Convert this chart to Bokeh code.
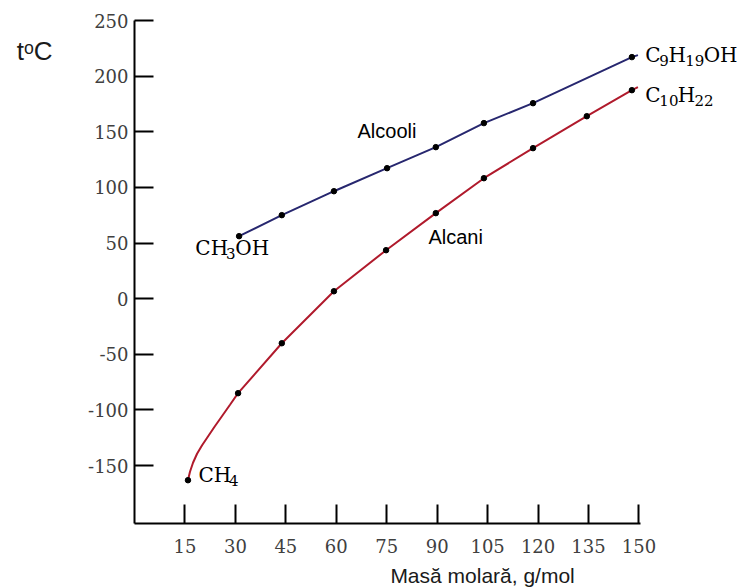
from bokeh.plotting import figure
from bokeh.models import Range1d, FixedTicker, Label, LinearAxis
from bokeh.embed import file_html
from bokeh.resources import INLINE

# ---- data ----
x_ticks = [15, 30, 45, 60, 75, 90, 105, 120, 135, 150]
y_ticks = [-150, -100, -50, 0, 50, 100, 150, 200, 250]

alcohol_mass = [31.1, 43.8, 59.3, 75.1, 89.6, 103.9, 118.5, 147.9]
alcohol_temp = [56.2, 75.1, 96.6, 117.3, 136.2, 157.8, 175.7, 217.1]

alkane_mass = [15.9, 30.8, 43.8, 59.3, 74.8, 89.6, 103.9, 118.5, 134.5, 147.9]
alkane_temp = [-163.1, -84.9, -40.0, 6.7, 43.6, 76.9, 108.3, 135.3, 164.0, 187.4]

# traced points along the drawn curves (between / beyond the markers)
alkane_curve_mass = [15.9, 16.5, 17.4, 18.6, 20.1, 21.9, 23.9, 26.0, 28.4, 30.8,
                     43.8, 59.3, 74.8, 89.6, 103.9, 118.5, 134.5, 147.9, 149.7]
alkane_curve_temp = [-163.1, -155.5, -147.4, -139.3, -131.7, -123.6, -114.6, -105.6, -95.3, -84.9,
                     -40.0, 6.7, 43.6, 76.9, 108.3, 135.3, 164.0, 187.4, 190.1]
alcohol_curve_mass = [31.1, 43.8, 59.3, 75.1, 89.6, 103.9, 118.5, 147.9, 149.7]
alcohol_curve_temp = [56.2, 75.1, 96.6, 117.3, 136.2, 157.8, 175.7, 217.1, 218.9]

y_title = "tᵒC"
x_title = "Masă molară, g/mol"

BLUE = "#27276f"
RED = "#b01a2c"
SERIF = "DejaVu Serif"
SANS = "Liberation Sans"

p = figure(frame_width=604, frame_height=503,
           min_border_left=134, min_border_right=0,
           min_border_top=20, min_border_bottom=0,
           x_range=Range1d(0, 179.6), y_range=Range1d(-202, 250),
           output_backend="svg", toolbar_location=None)

p.outline_line_color = None
p.xgrid.visible = False
p.ygrid.visible = False
p.background_fill_color = "white"
p.border_fill_color = "white"

for ax in (p.xaxis, p.yaxis):
    ax.axis_line_color = "black"
    ax.axis_line_width = 2
    ax.major_tick_line_color = "black"
    ax.major_tick_line_width = 2
    ax.major_tick_in = 19
    ax.major_tick_out = 0
    ax.minor_tick_line_color = None
    ax.major_label_text_font = SERIF
    ax.major_label_text_font_size = "18px"
    ax.major_label_text_color = "#404040"

p.xaxis.ticker = FixedTicker(ticks=x_ticks)
p.yaxis.ticker = FixedTicker(ticks=y_ticks)
p.xaxis.bounds = (0, 150.4)
p.yaxis.major_label_overrides = {v: str(v) for v in y_ticks}
p.xaxis.major_label_standoff = 15
p.yaxis.major_label_standoff = 6

# title texts placed through extra (line-less) axes so they sit outside the frame
y_title_axis = LinearAxis(ticker=FixedTicker(ticks=[223]),
                          major_label_overrides={223: y_title})
x_title_axis = LinearAxis(ticker=FixedTicker(ticks=[103.5]),
                          major_label_overrides={103.5: x_title})
for ax in (y_title_axis, x_title_axis):
    ax.axis_line_color = None
    ax.major_tick_line_color = None
    ax.minor_tick_line_color = None
    ax.major_tick_in = 0
    ax.major_tick_out = 0
    ax.major_label_text_font = SANS
    ax.major_label_text_color = "#1a1a1a"
y_title_axis.major_label_text_font_size = "26px"
y_title_axis.major_label_standoff = 33
x_title_axis.major_label_text_font_size = "21px"
x_title_axis.major_label_standoff = 8
p.add_layout(y_title_axis, "left")
p.add_layout(x_title_axis, "below")

p.line(alcohol_curve_mass, alcohol_curve_temp, line_color=BLUE, line_width=2)
p.line(alkane_curve_mass, alkane_curve_temp, line_color=RED, line_width=2)
p.scatter(alcohol_mass, alcohol_temp, size=5.5, color="black")
p.scatter(alkane_mass, alkane_temp, size=5.5, color="black")

LIFT = 7  # pixel lift applied to the in-plot labels


def lab(x, y, t, font, size, xo=0, yo=0):
    p.add_layout(Label(x=x, y=y, text=t, text_font=font, text_font_size=size,
                       text_color="black", text_align="left", text_baseline="alphabetic",
                       x_offset=xo, y_offset=yo + LIFT))


def formula(x, y, parts):
    """parts: list of (text, is_subscript); widths are approximate pixel advances."""
    xo = 0.0
    for t, sub in parts:
        if sub:
            lab(x, y, t, SERIF, "15px", xo, -6)
            xo += 9.2 * len(t)
        else:
            lab(x, y, t, SERIF, "20px", xo, 0)
            w = {"C": 14.0, "H": 16.7, "O": 15.7}
            xo += sum(w.get(c, 14) for c in t)


formula(18.1, 39.6, [("CH", False), ("3", True), ("OH", False)])
formula(19.0, -164.4, [("CH", False), ("4", True)])
formula(151.9, 213.1, [("C", False), ("9", True), ("H", False), ("19", True), ("OH", False)])
formula(151.9, 177.2, [("C", False), ("10", True), ("H", False), ("22", True)])
lab(66.3, 144.4, "Alcooli", SANS, "20px")
lab(87.4, 49.5, "Alcani", SANS, "20px")

open("out.html", "w").write(file_html(p, INLINE))
